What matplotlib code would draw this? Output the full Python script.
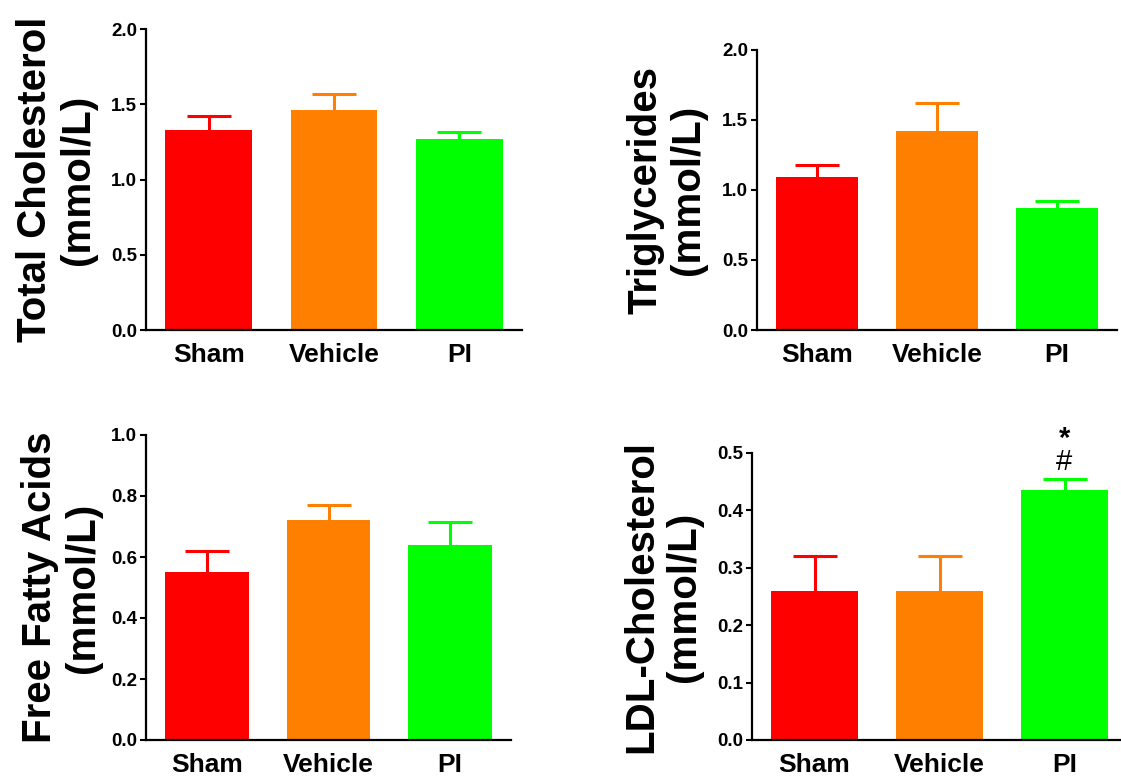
import matplotlib
matplotlib.use("Agg")
import matplotlib.pyplot as plt
import numpy as np

plt.rcParams['font.family'] = ['Liberation Sans', 'DejaVu Sans']
plt.rcParams['font.weight'] = 'bold'
plt.rcParams['mathtext.fontset'] = 'custom'
plt.rcParams['mathtext.bf'] = 'Liberation Sans:bold'
plt.rcParams['mathtext.rm'] = 'Liberation Sans'

groups = ["Sham", "Vehicle", "PI"]
colors = ["#FF0000", "#FF8000", "#00FF00"]

tc_mean = [1.33, 1.46, 1.27]
tc_sem = [0.09, 0.105, 0.045]
tg_mean = [1.09, 1.42, 0.87]
tg_sem = [0.09, 0.20, 0.05]
ffa_mean = [0.55, 0.72, 0.64]
ffa_sem = [0.07, 0.05, 0.075]
ldl_mean = [0.26, 0.26, 0.435]
ldl_sem = [0.06, 0.06, 0.02]

W, H = 1121, 777
fig = plt.figure(figsize=(W / 100, H / 100), dpi=100)


def px_axes(x0, x1, y0, y1):
    return fig.add_axes([x0 / W, 1 - y1 / H, (x1 - x0) / W, (y1 - y0) / H])


panels = [
    dict(box=(146, 522, 29, 330), mean=tc_mean, sem=tc_sem, ymax=2.0, step=0.5,
         label="Total Cholesterol\n(mmol/L)", lx=-49),
    dict(box=(757, 1117, 50, 330), mean=tg_mean, sem=tg_sem, ymax=2.0, step=0.5,
         label="Triglycerides\n(mmol/L)", lx=-50),
    dict(box=(146, 511, 435, 740), mean=ffa_mean, sem=ffa_sem, ymax=1.0, step=0.2,
         label="Free Fatty Acids\n(mmol/L)", lx=-44),
    dict(box=(752, 1127, 453, 740), mean=ldl_mean, sem=ldl_sem, ymax=0.5, step=0.1,
         label="LDL-Cholesterol\n(mmol/L)", lx=-49),
]

axes = []
for p in panels:
    x0, x1, y0, y1 = p["box"]
    ax = px_axes(x0, x1, y0, y1)
    axes.append(ax)
    x = np.arange(len(groups))
    for i in range(len(groups)):
        ax.errorbar(x[i], p["mean"][i], yerr=p["sem"][i], fmt="none", ecolor=colors[i],
                    elinewidth=2.2, capsize=15.5, capthick=2.2, zorder=1)
    ax.bar(x, p["mean"], width=0.69, color=colors, edgecolor="none", zorder=2)
    ax.set_xlim(-0.5, 2.5)
    ax.set_ylim(0, p["ymax"])
    ticks = np.arange(0, p["ymax"] + 1e-9, p["step"])
    ax.set_yticks(ticks)
    ax.set_yticklabels([f"{t:.1f}" for t in ticks], fontsize=13.5, fontweight="bold")
    ax.set_xticks(x)
    ax.set_xticklabels(groups, fontsize=19, fontweight="bold")
    ax.tick_params(axis="x", length=0, pad=9)
    ax.tick_params(axis="y", length=4.5, width=1.5, pad=2)
    for s in ["top", "right"]:
        ax.spines[s].set_visible(False)
    for s in ["left", "bottom"]:
        ax.spines[s].set_linewidth(1.6)
    ax.set_ylabel(p["label"], fontsize=29, fontweight="bold", linespacing=1.15)
    ax.yaxis.set_label_coords(p["lx"] / (x1 - x0), 0.5)

ax4 = axes[3]
ax4.text(2, 0.505, "$\\mathbf{*}$\n#", ha="center", va="center", fontsize=21,
         fontweight="normal", linespacing=0.82)

fig.savefig("out.png", dpi=100, facecolor="white")
